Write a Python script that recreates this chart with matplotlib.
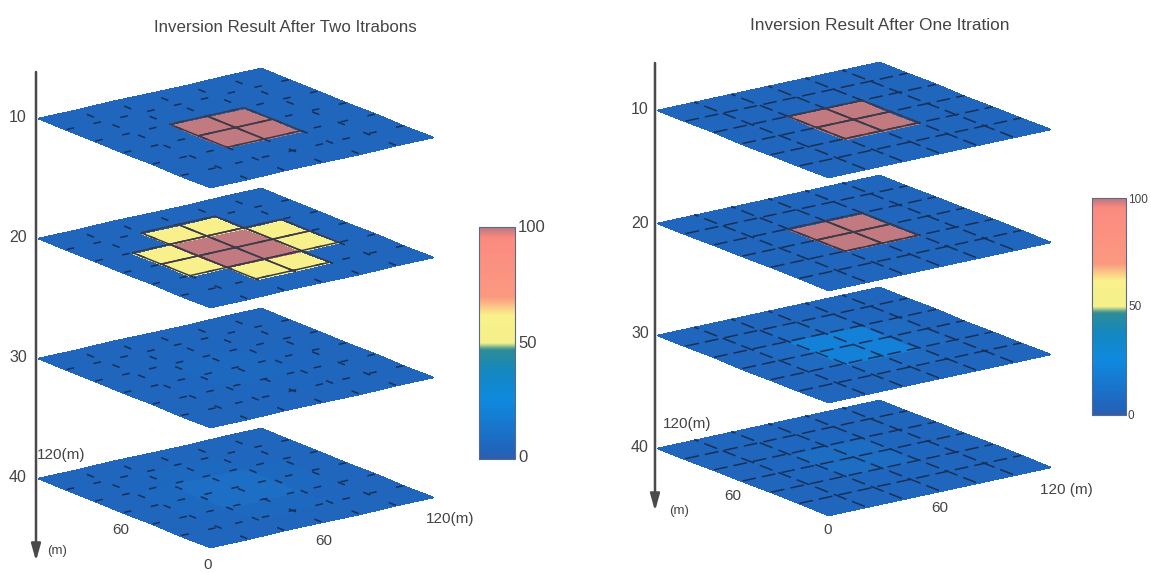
"""
Inversion result slices at four depths, after two iterations and after one
"""

import numpy as np
import matplotlib
matplotlib.use('Agg')
import matplotlib.pyplot as plt
from matplotlib.colors import LinearSegmentedColormap
from matplotlib.transforms import Affine2D

plt.rcParams['font.family'] = ['Liberation Sans', 'DejaVu Sans']

depths = [10, 20, 30, 40]
edges_m = [0, 20, 40, 60, 80, 100, 120]
cbar_ticks = [0, 50, 100]

# values per cell, 6 x 6, in percent
two_d10 = [[4, 4, 4, 4, 4, 4],
           [4, 4, 4, 4, 4, 4],
           [4, 4, 100, 100, 4, 4],
           [4, 4, 100, 100, 4, 4],
           [4, 4, 4, 4, 4, 4],
           [4, 4, 4, 4, 4, 4]]
two_d20 = [[4, 4, 4, 4, 4, 4],
           [4, 4, 57, 57, 4, 4],
           [4, 57, 100, 100, 57, 4],
           [4, 57, 100, 100, 57, 4],
           [4, 4, 57, 57, 4, 4],
           [4, 4, 4, 4, 4, 4]]
two_d30 = [[4, 4, 4, 4, 4, 4],
           [4, 4, 5, 5, 4, 4],
           [4, 5, 6, 6, 5, 4],
           [4, 5, 6, 6, 5, 4],
           [4, 4, 5, 5, 4, 4],
           [4, 4, 4, 4, 4, 4]]
two_d40 = [[4, 4, 4, 4, 4, 4],
           [4, 5, 6, 6, 5, 4],
           [4, 6, 9, 9, 6, 4],
           [4, 6, 9, 9, 6, 4],
           [4, 5, 6, 6, 5, 4],
           [4, 4, 4, 4, 4, 4]]

one_d10 = [[4, 4, 4, 4, 4, 4],
           [4, 4, 4, 4, 4, 4],
           [4, 4, 100, 100, 4, 4],
           [4, 4, 100, 100, 4, 4],
           [4, 4, 4, 4, 4, 4],
           [4, 4, 4, 4, 4, 4]]
one_d20 = [[4, 4, 4, 4, 4, 4],
           [4, 4, 4, 4, 4, 4],
           [4, 4, 100, 100, 4, 4],
           [4, 4, 100, 100, 4, 4],
           [4, 4, 4, 4, 4, 4],
           [4, 4, 4, 4, 4, 4]]
one_d30 = [[4, 4, 4, 4, 4, 4],
           [4, 5, 7, 7, 5, 4],
           [4, 7, 20, 20, 7, 4],
           [4, 7, 20, 20, 7, 4],
           [4, 5, 7, 7, 5, 4],
           [4, 4, 4, 4, 4, 4]]
one_d40 = [[4, 4, 4, 4, 4, 4],
           [4, 4, 5, 5, 4, 4],
           [4, 5, 8, 8, 5, 4],
           [4, 5, 8, 8, 5, 4],
           [4, 4, 5, 5, 4, 4],
           [4, 4, 4, 4, 4, 4]]

cmap = LinearSegmentedColormap.from_list('scan', [
    (0.00, '#2b5fb4'), (0.04, '#2066bd'), (0.25, '#0f8ae0'), (0.38, '#1488c0'),
    (0.47, '#2f8c96'), (0.50, '#f4f08a'), (0.62, '#fbf28c'), (0.70, '#fb9a80'),
    (0.96, '#fb8a80'), (1.00, '#c07a80')])


def draw_panel(ax, layers, bottom, right, left, spacing, dash):
    # bottom/right/left are the pixel corners of the 10 m sheet
    a = (right[0] - bottom[0]) / 120
    b = (right[1] - bottom[1]) / 120
    c = (left[0] - bottom[0]) / 120
    d = (left[1] - bottom[1]) / 120
    for depth, vals in zip(depths, layers):
        shift = (depth - depths[0]) * spacing
        tr = Affine2D.from_values(a, b, c, d, bottom[0], bottom[1] + shift) + ax.transData
        vals = np.array(vals, dtype=float)
        ax.pcolormesh(edges_m, edges_m, vals, cmap=cmap, vmin=0, vmax=100, transform=tr,
                      edgecolors='face', linewidth=0.4, zorder=2)
        for e in edges_m[1:-1]:
            ax.plot([e, e], [0, 120], color='#173058', lw=1.1, dashes=dash, transform=tr, zorder=3)
            ax.plot([0, 120], [e, e], color='#173058', lw=1.1, dashes=dash, transform=tr, zorder=3)
        # bright cells keep a solid dark outline
        for i, row in enumerate(vals):
            for j, v in enumerate(row):
                if v >= 50:
                    xs = [edges_m[j], edges_m[j + 1], edges_m[j + 1], edges_m[j], edges_m[j]]
                    ys = [edges_m[i], edges_m[i], edges_m[i + 1], edges_m[i + 1], edges_m[i]]
                    ax.plot(xs, ys, color='#3e3a48', lw=1.1, transform=tr, zorder=4)


def draw_axis_arrow(ax, x, y0, y1):
    ax.annotate('', xy=(x, y1), xytext=(x, y0),
                arrowprops=dict(arrowstyle='-|>,head_width=0.28,head_length=1.0', color='#4a4a4a', lw=1.8,
                                shrinkA=0, shrinkB=0), zorder=5)


def draw_colorbar(ax, x0, x1, y0, y1):
    # y0 is the bottom of the bar (value 0), y1 the top (value 100)
    levels = np.linspace(0, 100, 101).reshape(-1, 1)
    ax.imshow(levels, cmap=cmap, vmin=0, vmax=100, origin='lower', aspect='auto',
              extent=(x0, x1, y0, y1), zorder=2, interpolation='bilinear')
    ax.plot([x0, x1, x1, x0, x0], [y0, y0, y1, y1, y0], color='#5a6a80', lw=0.8, zorder=3)


fig = plt.figure(figsize=(11.51, 5.73), dpi=100)
ax = fig.add_axes([0, 0, 1, 1])
txt = '#444444'

draw_panel(ax, [two_d10, two_d20, two_d30, two_d40], (210, 187), (433, 137), (38, 118), 12.0, (5, 13))
draw_panel(ax, [one_d10, one_d20, one_d30, one_d40], (828, 177), (1050, 129), (657, 110), 11.25, (9, 4))

draw_axis_arrow(ax, 36, 72, 561)
draw_axis_arrow(ax, 655, 63, 511)

draw_colorbar(ax, 479, 515, 459, 227)
draw_colorbar(ax, 1092, 1126, 415, 198)

ax.text(285, 27, 'Inversion Result After Two Itrabons', ha='center', va='center', fontsize=12.2, color=txt)
ax.text(880, 26, 'Inversion Result After One Itration', ha='center', va='center', fontsize=12.4, color=txt)

for depth, y in zip(depths, [118, 237, 357, 478]):
    ax.text(18, y, str(depth), ha='center', va='center', fontsize=11.5, color=txt)
for depth, y in zip(depths, [110, 223, 333, 447]):
    ax.text(640, y, str(depth), ha='center', va='center', fontsize=11.5, color=txt)

labels_left = [('120(m)', 61, 455), ('60', 121, 530), ('0', 208, 565), ('60', 324, 541),
               ('120(m)', 450, 519), ('(m)', 57, 551)]
labels_right = [('120(m)', 687, 424), ('60', 733, 496), ('0', 828, 530), ('60', 940, 508),
                ('120 (m)', 1066, 490), ('(m)', 679, 511)]
for s, x, y in labels_left + labels_right:
    size = 9.5 if s == '(m)' else 11
    ax.text(x, y, s, ha='center', va='center', fontsize=size, color=txt)

for tick, y in zip(cbar_ticks, [457, 343, 228]):
    ax.text(518, y, str(tick), ha='left', va='center', fontsize=12, color=txt)
for tick, y in zip(cbar_ticks, [416, 307, 200]):
    ax.text(1128, y, str(tick), ha='left', va='center', fontsize=8.5, color=txt)

ax.set_xlim(0, 1151)
ax.set_ylim(573, 0)
ax.axis('off')

fig.savefig('out.png', dpi=100)
